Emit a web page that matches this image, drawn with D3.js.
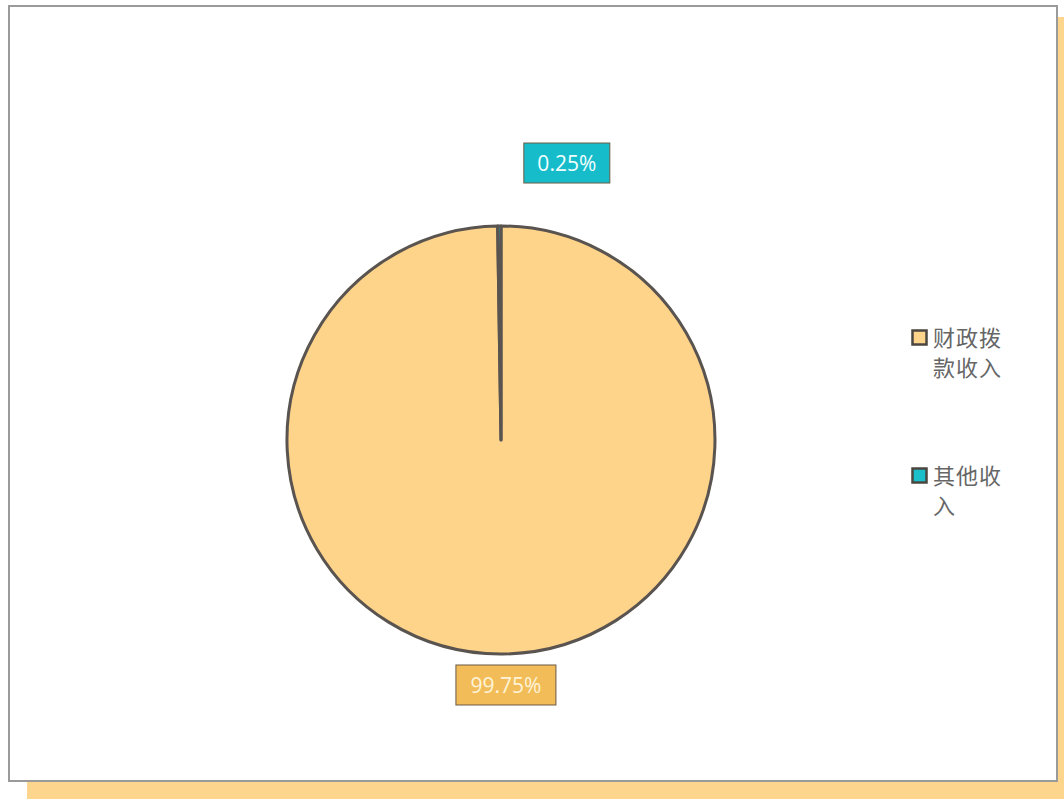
<!DOCTYPE html>
<html><head><meta charset="utf-8">
<script src="https://cdn.jsdelivr.net/npm/d3@7"></script>
<style>html,body{margin:0;padding:0;background:#fff;}svg{display:block;}</style>
</head><body>
<svg id="chart" width="1064" height="799"></svg>
<script>
const categories = ["财政拨款收入", "其他收入"];
const legendLines = [["财政拨", "款收入"], ["其他收", "入"]];
const values = [99.75, 0.25];
const labels = ["99.75%", "0.25%"];
const sliceColors = ["#FED38A", "#1BBFC9"];
const labelColors = ["#F2BC59", "#17BCCB"];

const svg = d3.select("#chart");
// backdrop shadow and frame
svg.append("rect").attr("x", 27).attr("y", 17).attr("width", 1040).attr("height", 790).attr("fill", "#FDD58C");
svg.append("rect").attr("x", 9).attr("y", 6).attr("width", 1048).attr("height", 775)
  .attr("fill", "#fff").attr("stroke", "#9a9a9a").attr("stroke-width", 2);

const cx = 501, cy = 440, r = 214;
const arcsData = d3.pie().sort(null).value(d => d)
  .startAngle(0).endAngle(Math.PI * 2)(values);
const arc = d3.arc().innerRadius(0).outerRadius(r);
const g = svg.append("g").attr("transform", `translate(${cx},${cy})`);
g.selectAll("path.slice").data(arcsData).join("path")
  .attr("class", "slice")
  .attr("d", arc)
  .attr("fill", (d, i) => sliceColors[i])
  .attr("stroke", "#5a5450").attr("stroke-width", 3).attr("stroke-linejoin", "round");

// labels
const labelR = [r + 31, r + 63];
const labelDx = [3, 68];
const boxW = [100, 86], boxH = 40;
arcsData.forEach((d, i) => {
  const a = (d.startAngle + d.endAngle) / 2;
  const lx = Math.sin(a) * labelR[i] + labelDx[i];
  const ly = -Math.cos(a) * labelR[i];
  const lg = g.append("g").attr("transform", `translate(${lx},${ly})`);
  lg.append("rect").attr("x", -boxW[i] / 2).attr("y", -boxH / 2).attr("width", boxW[i]).attr("height", boxH)
    .attr("fill", labelColors[i]).attr("stroke", "#6b5a45").attr("stroke-width", 1);
  lg.append("text").attr("text-anchor", "middle").attr("dy", "0.36em")
    .attr("font-family", "'Open Sans', 'Noto Sans', sans-serif").attr("font-size", 21)
    .attr("fill", i === 0 ? "#FFF4D8" : "#F2FFFF").text(labels[i]);
});

// legend
const lgd = svg.append("g");
categories.forEach((c, i) => {
  const y0 = 330.5 + i * 138;
  lgd.append("rect").attr("x", 912.5).attr("y", y0).attr("width", 14).attr("height", 14)
    .attr("fill", sliceColors[i]).attr("stroke", "#4a4640").attr("stroke-width", 2.5);
  legendLines[i].forEach((t, j) => {
    lgd.append("text").attr("x", 933).attr("y", y0 + 15 + j * 30)
      .attr("font-family", "'Noto Sans CJK SC', sans-serif").attr("font-size", 22)
      .attr("letter-spacing", 1)
      .attr("fill", "#666").text(t);
  });
});
</script>
</body></html>
